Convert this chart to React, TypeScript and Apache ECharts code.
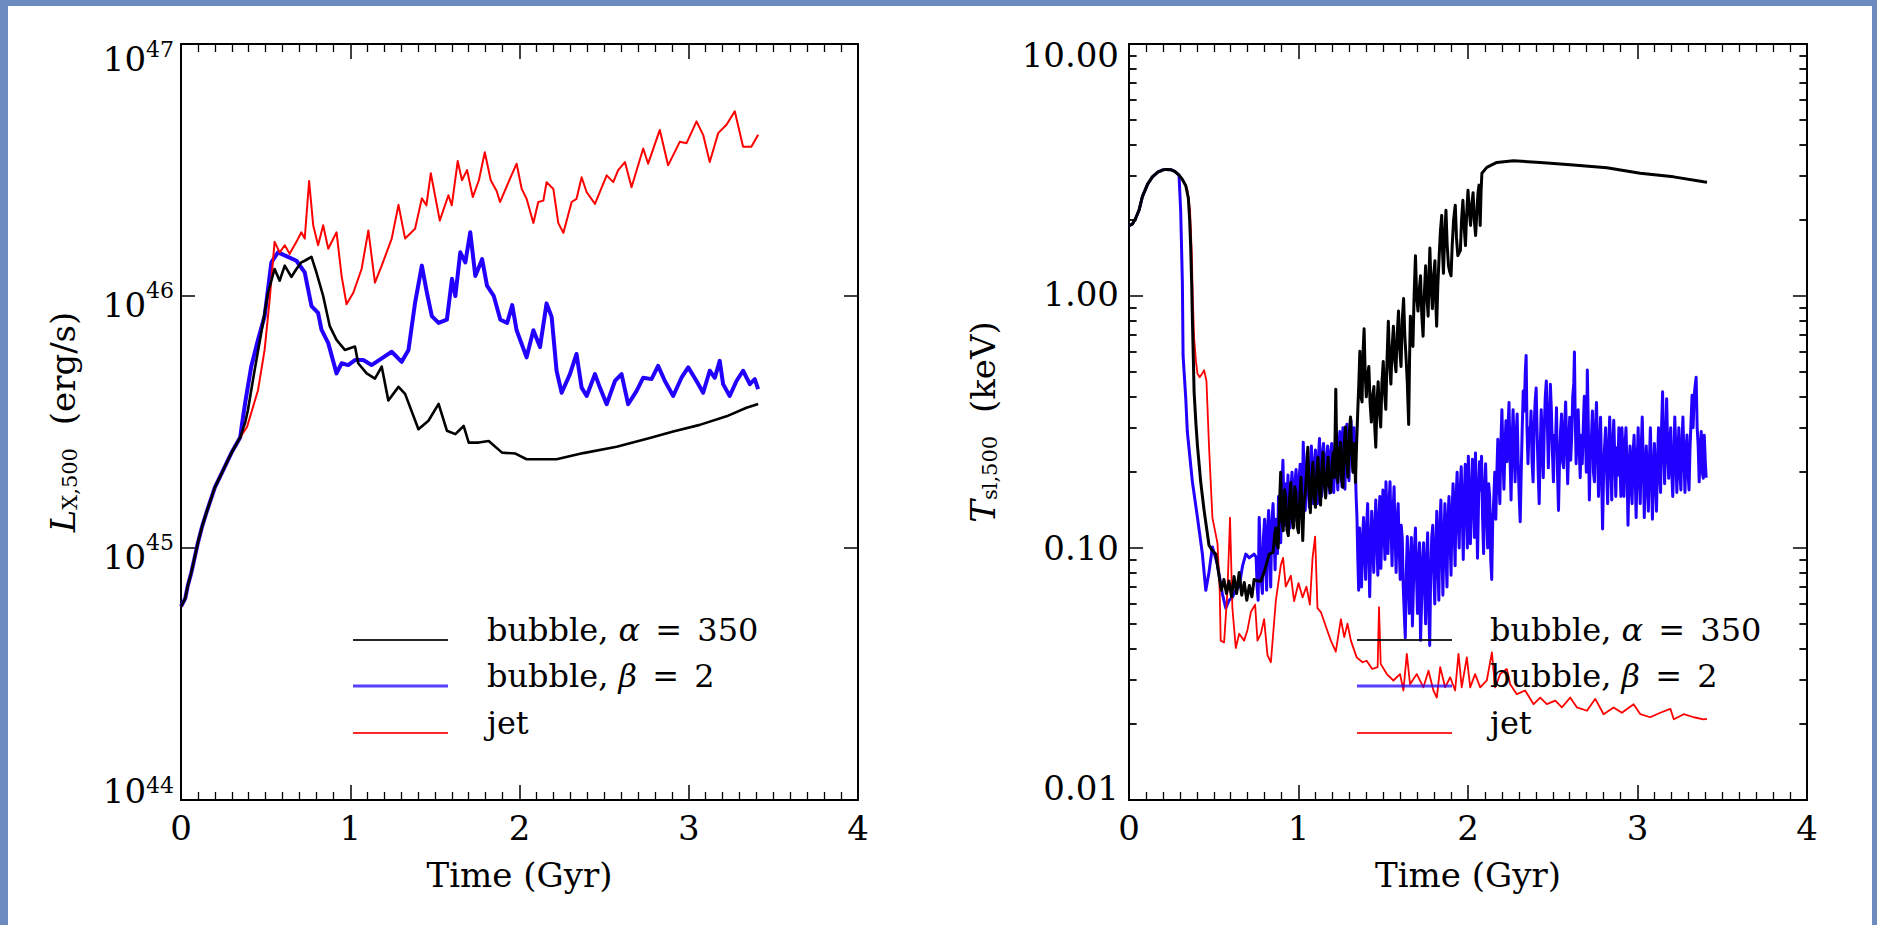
import React, { useEffect, useRef } from "react";
import * as echarts from "echarts";

type Pt = [number, number];

const FONT = '"DejaVu Serif", "Liberation Serif", serif';

// ---------- axis ticks ----------
const timeMin = 0;
const timeMax = 4;
const lxMin = 1e44;
const lxMax = 1e47;
const tslMin = 0.01;
const tslMax = 10;
const tslDecadeLabels: Record<string, string> = { "-2": "0.01", "-1": "0.10", "0": "1.00", "1": "10.00" };
const tslMinorTicks = [
  0.02, 0.03, 0.04, 0.05, 0.06, 0.07, 0.08, 0.09,
  0.2, 0.3, 0.4, 0.5, 0.6, 0.7, 0.8, 0.9,
  2, 3, 4, 5, 6, 7, 8, 9,
];
const minorTickSpan = 0.045; // Gyr, length of a minor log tick along the time axis

// ---------- legend ----------
const seriesNames = ["bubble, α = 350", "bubble, β = 2", "jet"];
const legendPrefix = ["bubble, ", "bubble, ", "jet"];
const legendSymbol = ["α", "β", ""];
const legendValue = ["350", "2", ""];
const seriesColors = ["#000000", "#2200ff", "#ff0000"];

// ---------- left panel: L_X,500 (erg/s) vs time (Gyr) ----------
const lxCommon: Pt[] = [
  [0, 5.86e44], [0.025, 6.31e44], [0.04, 7.08e44], [0.06, 7.94e44], [0.08, 9.12e44],
  [0.1, 1.05e45], [0.125, 1.22e45], [0.15, 1.38e45], [0.2, 1.74e45], [0.25, 2.04e45],
  [0.3, 2.4e45], [0.35, 2.75e45],
];
const lxAlpha: Pt[] = [
  [0.38, 3.16e45], [0.395, 3.51e45], [0.435, 5.08e45], [0.474, 7.13e45], [0.514, 1.03e46],
  [0.553, 1.28e46], [0.583, 1.15e46], [0.613, 1.32e46], [0.652, 1.19e46], [0.682, 1.28e46],
  [0.711, 1.36e46], [0.731, 1.38e46], [0.771, 1.43e46], [0.8, 1.24e46], [0.84, 1.0e46],
  [0.879, 7.59e45], [0.919, 6.7e45], [0.968, 6.11e45], [1.028, 6.3e45], [1.047, 5.41e45],
  [1.097, 4.93e45], [1.146, 4.7e45], [1.186, 5.24e45], [1.225, 3.85e45], [1.285, 4.36e45],
  [1.324, 4.09e45], [1.403, 2.96e45], [1.462, 3.2e45], [1.522, 3.73e45], [1.571, 2.92e45],
  [1.621, 2.83e45], [1.67, 3.05e45], [1.7, 2.62e45], [1.759, 2.62e45], [1.818, 2.66e45],
  [1.897, 2.39e45], [1.976, 2.37e45], [2.042, 2.25e45], [2.219, 2.25e45], [2.377, 2.38e45],
  [2.574, 2.52e45], [2.77, 2.73e45], [2.908, 2.9e45], [3.065, 3.08e45], [3.223, 3.33e45],
  [3.341, 3.6e45], [3.41, 3.73e45],
];
const lxBeta: Pt[] = [
  [0.36, 3.09e45], [0.38, 3.8e45], [0.415, 5.25e45], [0.455, 6.7e45], [0.494, 8.32e45],
  [0.534, 1.36e46], [0.573, 1.49e46], [0.632, 1.43e46], [0.682, 1.38e46], [0.731, 1.24e46],
  [0.771, 9.12e45], [0.81, 8.57e45], [0.83, 7.35e45], [0.87, 6.5e45], [0.919, 4.93e45],
  [0.949, 5.41e45], [0.988, 5.32e45], [1.028, 5.57e45], [1.077, 5.57e45], [1.126, 5.32e45],
  [1.186, 5.66e45], [1.245, 6.01e45], [1.304, 5.48e45], [1.344, 6.11e45], [1.383, 9.4e45],
  [1.423, 1.32e46], [1.453, 1.03e46], [1.482, 8.32e45], [1.522, 7.82e45], [1.571, 8.05e45],
  [1.601, 1.17e46], [1.621, 1.0e46], [1.65, 1.49e46], [1.68, 1.36e46], [1.709, 1.79e46],
  [1.739, 1.2e46], [1.779, 1.4e46], [1.808, 1.1e46], [1.848, 1.0e46], [1.887, 8.05e45],
  [1.927, 7.82e45], [1.957, 9.2e45], [1.983, 7.31e45], [2.042, 5.71e45], [2.082, 7.31e45],
  [2.121, 6.27e45], [2.16, 9.35e45], [2.19, 8.26e45], [2.219, 5.05e45], [2.249, 4.13e45],
  [2.298, 4.9e45], [2.337, 5.89e45], [2.367, 4.33e45], [2.397, 4.01e45], [2.446, 4.9e45],
  [2.475, 4.33e45], [2.515, 3.72e45], [2.564, 4.6e45], [2.603, 4.9e45], [2.642, 3.72e45],
  [2.692, 4.2e45], [2.731, 4.74e45], [2.78, 4.68e45], [2.819, 5.28e45], [2.859, 4.6e45],
  [2.908, 4.01e45], [2.957, 4.74e45], [2.997, 5.21e45], [3.046, 4.6e45], [3.085, 4.13e45],
  [3.124, 5.05e45], [3.154, 4.74e45], [3.183, 5.53e45], [3.203, 4.47e45], [3.242, 4.01e45],
  [3.282, 4.6e45], [3.321, 5.05e45], [3.361, 4.47e45], [3.39, 4.68e45], [3.41, 4.27e45],
];
const lxJet: Pt[] = [
  [0.39, 3.02e45], [0.455, 4.23e45], [0.494, 6.11e45], [0.524, 9.7e45], [0.553, 1.64e46],
  [0.583, 1.49e46], [0.613, 1.59e46], [0.642, 1.47e46], [0.682, 1.64e46], [0.711, 1.79e46],
  [0.731, 1.69e46], [0.757, 2.86e46], [0.781, 1.91e46], [0.81, 1.59e46], [0.84, 1.91e46],
  [0.87, 1.54e46], [0.919, 1.79e46], [0.949, 1.2e46], [0.978, 9.27e45], [1.018, 1.03e46],
  [1.067, 1.28e46], [1.107, 1.82e46], [1.146, 1.13e46], [1.186, 1.32e46], [1.245, 1.69e46],
  [1.285, 2.3e46], [1.324, 1.69e46], [1.383, 1.85e46], [1.423, 2.44e46], [1.45, 2.29e46],
  [1.476, 3.07e46], [1.529, 1.99e46], [1.58, 2.51e46], [1.6, 2.29e46], [1.635, 3.43e46],
  [1.66, 2.88e46], [1.69, 3.16e46], [1.724, 2.47e46], [1.76, 2.88e46], [1.795, 3.72e46],
  [1.83, 2.88e46], [1.865, 2.61e46], [1.885, 2.36e46], [1.944, 2.92e46], [1.983, 3.35e46],
  [2.013, 2.66e46], [2.042, 2.43e46], [2.082, 1.95e46], [2.111, 2.36e46], [2.141, 2.39e46],
  [2.16, 2.83e46], [2.2, 2.66e46], [2.229, 1.95e46], [2.259, 1.78e46], [2.308, 2.36e46],
  [2.337, 2.43e46], [2.367, 2.96e46], [2.397, 2.58e46], [2.446, 2.32e46], [2.515, 3.01e46],
  [2.554, 2.83e46], [2.583, 3.16e46], [2.623, 3.4e46], [2.662, 2.7e46], [2.731, 3.85e46],
  [2.76, 3.35e46], [2.829, 4.56e46], [2.878, 3.3e46], [2.947, 4.09e46], [2.987, 4.04e46],
  [3.046, 4.93e46], [3.085, 4.36e46], [3.124, 3.4e46], [3.174, 4.43e46], [3.223, 4.78e46],
  [3.272, 5.41e46], [3.321, 3.91e46], [3.37, 3.91e46], [3.41, 4.36e46],
];

// ---------- right panel: T_sl,500 (keV) vs time (Gyr) ----------
const tslCommon: Pt[] = [
  [0, 1.9], [0.02, 1.93], [0.039, 2.03], [0.06, 2.2], [0.079, 2.48], [0.11, 2.78],
  [0.138, 2.97], [0.17, 3.1], [0.197, 3.16], [0.22, 3.18], [0.246, 3.17], [0.27, 3.12],
  [0.295, 3.02],
];
const tslAlpha: Pt[] = [
  [0.315, 2.9], [0.335, 2.74], [0.35, 2.45], [0.358, 2.0], [0.364, 1.56], [0.37, 1.1],
  [0.374, 0.807], [0.38, 0.55], [0.384, 0.417], [0.395, 0.31], [0.404, 0.254], [0.423, 0.183],
  [0.443, 0.141], [0.472, 0.1026], [0.49, 0.098], [0.512, 0.0946], [0.531, 0.0776],
  [0.545, 0.068], [0.56, 0.075], [0.575, 0.066], [0.59, 0.074], [0.605, 0.064], [0.62, 0.077],
  [0.635, 0.066], [0.65, 0.08], [0.665, 0.065], [0.68, 0.073], [0.695, 0.062], [0.71, 0.071],
  [0.725, 0.064], [0.738, 0.075], [0.758, 0.0741], [0.778, 0.0738], [0.8, 0.0813],
  [0.827, 0.0946],
  [0.85, 0.096], [0.858, 0.11], [0.865, 0.12], [0.872, 0.104], [0.88, 0.1], [0.888, 0.15],
  [0.895, 0.2], [0.902, 0.13], [0.91, 0.117], [0.918, 0.17], [0.925, 0.158], [0.932, 0.118],
  [0.94, 0.112], [0.948, 0.16], [0.955, 0.182], [0.962, 0.13], [0.97, 0.12], [0.978, 0.175],
  [0.985, 0.166], [0.992, 0.122], [1.0, 0.115], [1.008, 0.16], [1.015, 0.191], [1.02, 0.14],
  [1.025, 0.107], [1.032, 0.15], [1.04, 0.166], [1.048, 0.2], [1.055, 0.251], [1.062, 0.17],
  [1.07, 0.138], [1.078, 0.19], [1.085, 0.219], [1.092, 0.16], [1.1, 0.145], [1.108, 0.2],
  [1.115, 0.229], [1.122, 0.17], [1.13, 0.148], [1.138, 0.21], [1.145, 0.24], [1.152, 0.18],
  [1.16, 0.158], [1.168, 0.2], [1.175, 0.229], [1.182, 0.175], [1.19, 0.166], [1.198, 0.215],
  [1.205, 0.24], [1.212, 0.19], [1.22, 0.427], [1.226, 0.23], [1.232, 0.182], [1.24, 0.24],
  [1.248, 0.263], [1.254, 0.19], [1.262, 0.174], [1.27, 0.26], [1.277, 0.302], [1.284, 0.22],
  [1.292, 0.191], [1.3, 0.29], [1.307, 0.331], [1.314, 0.24], [1.322, 0.2], [1.33, 0.26],
  [1.336, 0.182], [1.342, 0.25], [1.35, 0.355], [1.356, 0.45], [1.362, 0.603], [1.368, 0.4],
  [1.375, 0.38], [1.381, 0.6], [1.387, 0.741], [1.393, 0.5], [1.4, 0.398], [1.407, 0.48],
  [1.415, 0.525], [1.422, 0.38], [1.43, 0.316], [1.437, 0.4], [1.445, 0.437], [1.45, 0.3],
  [1.456, 0.251], [1.463, 0.38], [1.47, 0.457], [1.477, 0.35], [1.485, 0.302], [1.492, 0.45],
  [1.5, 0.55], [1.507, 0.42], [1.515, 0.355], [1.522, 0.55], [1.53, 0.794], [1.537, 0.55],
  [1.545, 0.447], [1.552, 0.62], [1.56, 0.759], [1.567, 0.56], [1.575, 0.501], [1.582, 0.7],
  [1.59, 0.871], [1.597, 0.62], [1.605, 0.525], [1.612, 0.8], [1.62, 0.977], [1.627, 0.7],
  [1.635, 0.562], [1.642, 0.45], [1.65, 0.309], [1.655, 0.55], [1.66, 0.832], [1.667, 0.7],
  [1.675, 0.631], [1.682, 1.0], [1.69, 1.445], [1.697, 1.0], [1.705, 0.871], [1.712, 1.05],
  [1.72, 1.202], [1.727, 0.85], [1.735, 0.692], [1.742, 1.0], [1.75, 1.318], [1.757, 1.0],
  [1.765, 0.832], [1.77, 1.2], [1.775, 1.549], [1.782, 1.1], [1.79, 0.891], [1.797, 1.2],
  [1.805, 1.38], [1.81, 0.95], [1.815, 0.759], [1.822, 1.1], [1.83, 1.445], [1.837, 1.8],
  [1.845, 2.089], [1.85, 1.5], [1.855, 1.23], [1.862, 1.7], [1.87, 2.188], [1.877, 1.6],
  [1.885, 1.318], [1.892, 1.25], [1.9, 1.202], [1.907, 1.6], [1.915, 1.995], [1.92, 2.15],
  [1.925, 2.291], [1.932, 1.7], [1.94, 1.445], [1.947, 1.48], [1.955, 1.514], [1.962, 2.0],
  [1.97, 2.399], [1.977, 1.9], [1.985, 1.585], [1.992, 2.1], [2.0, 2.63], [2.007, 2.2],
  [2.015, 1.905], [2.022, 2.3], [2.03, 2.57], [2.037, 2.0], [2.045, 1.738], [2.05, 2.0],
  [2.055, 2.344], [2.06, 2.6], [2.065, 2.754], [2.069, 2.2], [2.072, 1.905], [2.077, 2.6],
  [2.082, 3.07], [2.111, 3.24], [2.17, 3.39], [2.268, 3.44], [2.426, 3.39], [2.622, 3.31],
  [2.819, 3.23], [3.016, 3.07], [3.213, 2.97], [3.39, 2.84], [3.41, 2.83],
];
const tslBeta: Pt[] = [
  [0.305, 2.17], [0.315, 1.12], [0.319, 0.581], [0.325, 0.5], [0.335, 0.391], [0.344, 0.29],
  [0.374, 0.183], [0.404, 0.132], [0.433, 0.0946], [0.453, 0.0679], [0.472, 0.0802],
  [0.492, 0.101], [0.522, 0.0857], [0.551, 0.0658], [0.571, 0.0577], [0.59, 0.062],
  [0.61, 0.0637], [0.63, 0.068], [0.65, 0.0703], [0.67, 0.085], [0.689, 0.0946],
  [0.709, 0.0914], [0.738, 0.0946],
  [0.75, 0.092], [0.756, 0.07], [0.762, 0.062], [0.768, 0.132], [0.774, 0.1], [0.78, 0.075],
  [0.787, 0.066], [0.793, 0.11], [0.8, 0.13], [0.806, 0.09], [0.812, 0.068], [0.818, 0.12],
  [0.824, 0.141], [0.83, 0.095], [0.836, 0.07], [0.842, 0.125], [0.85, 0.15], [0.856, 0.11],
  [0.862, 0.082], [0.868, 0.13], [0.876, 0.095], [0.882, 0.16], [0.888, 0.12], [0.895, 0.105],
  [0.902, 0.17], [0.908, 0.223], [0.914, 0.15], [0.92, 0.123], [0.926, 0.18], [0.932, 0.14],
  [0.938, 0.195], [0.944, 0.125], [0.95, 0.12], [0.956, 0.175], [0.962, 0.2], [0.968, 0.14],
  [0.974, 0.128], [0.98, 0.185], [0.986, 0.205], [0.992, 0.15], [0.998, 0.132], [1.004, 0.19],
  [1.01, 0.215], [1.016, 0.16], [1.022, 0.14], [1.028, 0.263], [1.034, 0.19], [1.04, 0.141],
  [1.046, 0.2], [1.052, 0.24], [1.058, 0.17], [1.064, 0.145], [1.07, 0.21], [1.076, 0.254],
  [1.082, 0.18], [1.088, 0.15], [1.094, 0.22], [1.1, 0.245], [1.106, 0.17], [1.112, 0.15],
  [1.118, 0.23], [1.124, 0.272], [1.13, 0.19], [1.136, 0.16], [1.142, 0.24], [1.148, 0.26],
  [1.154, 0.18], [1.16, 0.16], [1.166, 0.23], [1.172, 0.254], [1.178, 0.19], [1.184, 0.165],
  [1.19, 0.24], [1.196, 0.26], [1.202, 0.185], [1.208, 0.166], [1.214, 0.245], [1.22, 0.28],
  [1.226, 0.2], [1.232, 0.17], [1.238, 0.25], [1.244, 0.29], [1.25, 0.21], [1.256, 0.175],
  [1.262, 0.3], [1.268, 0.24], [1.274, 0.171], [1.28, 0.26], [1.286, 0.31], [1.292, 0.22],
  [1.298, 0.185], [1.304, 0.29], [1.31, 0.321], [1.316, 0.24], [1.322, 0.2], [1.328, 0.3],
  [1.334, 0.223], [1.34, 0.16], [1.345, 0.132], [1.35, 0.09], [1.355, 0.068], [1.36, 0.12],
  [1.366, 0.09], [1.372, 0.07], [1.378, 0.11], [1.384, 0.132], [1.39, 0.095], [1.396, 0.075],
  [1.402, 0.12], [1.408, 0.15], [1.414, 0.1], [1.42, 0.064], [1.426, 0.1], [1.432, 0.14],
  [1.438, 0.105], [1.444, 0.08], [1.45, 0.12], [1.456, 0.155], [1.462, 0.11], [1.468, 0.078],
  [1.474, 0.13], [1.48, 0.16], [1.486, 0.083], [1.492, 0.12], [1.498, 0.17], [1.504, 0.12],
  [1.51, 0.09], [1.516, 0.183], [1.522, 0.13], [1.528, 0.095], [1.534, 0.15], [1.54, 0.183],
  [1.546, 0.12], [1.552, 0.085], [1.558, 0.14], [1.564, 0.175], [1.57, 0.11], [1.576, 0.08],
  [1.582, 0.13], [1.588, 0.15], [1.594, 0.1], [1.6, 0.075], [1.606, 0.123], [1.612, 0.11],
  [1.618, 0.07], [1.624, 0.055], [1.63, 0.044], [1.636, 0.08], [1.642, 0.111], [1.648, 0.075],
  [1.654, 0.055], [1.66, 0.09], [1.666, 0.11], [1.672, 0.049], [1.678, 0.07], [1.684, 0.1],
  [1.69, 0.12], [1.696, 0.08], [1.702, 0.055], [1.708, 0.085], [1.714, 0.105], [1.72, 0.043],
  [1.726, 0.06], [1.732, 0.09], [1.738, 0.105], [1.744, 0.07], [1.75, 0.05], [1.756, 0.09],
  [1.762, 0.115], [1.768, 0.06], [1.774, 0.041], [1.78, 0.08], [1.786, 0.11], [1.792, 0.123],
  [1.798, 0.08], [1.804, 0.06], [1.81, 0.1], [1.816, 0.14], [1.822, 0.09], [1.828, 0.062],
  [1.834, 0.12], [1.84, 0.155], [1.846, 0.1], [1.852, 0.065], [1.858, 0.11], [1.864, 0.15],
  [1.87, 0.095], [1.876, 0.07], [1.882, 0.132], [1.888, 0.16], [1.894, 0.11], [1.9, 0.078],
  [1.906, 0.14], [1.912, 0.18], [1.918, 0.12], [1.924, 0.085], [1.93, 0.16], [1.936, 0.2],
  [1.942, 0.13], [1.948, 0.1], [1.954, 0.17], [1.96, 0.21], [1.966, 0.14], [1.972, 0.09],
  [1.978, 0.16], [1.984, 0.215], [1.99, 0.15], [1.996, 0.1], [2.002, 0.231], [2.008, 0.16],
  [2.014, 0.104], [2.02, 0.15], [2.026, 0.225], [2.032, 0.17], [2.038, 0.11], [2.044, 0.238],
  [2.05, 0.16], [2.056, 0.091], [2.062, 0.15], [2.068, 0.22], [2.074, 0.17], [2.08, 0.231],
  [2.086, 0.132], [2.092, 0.095], [2.098, 0.17], [2.104, 0.216], [2.11, 0.14], [2.116, 0.1],
  [2.122, 0.18], [2.128, 0.16], [2.134, 0.09], [2.14, 0.075], [2.146, 0.13], [2.152, 0.155],
  [2.158, 0.2], [2.164, 0.13], [2.17, 0.195], [2.176, 0.27], [2.182, 0.19], [2.188, 0.15],
  [2.194, 0.26], [2.2, 0.354], [2.206, 0.24], [2.212, 0.171], [2.218, 0.25], [2.224, 0.32],
  [2.23, 0.22], [2.236, 0.3], [2.242, 0.378], [2.248, 0.23], [2.254, 0.155], [2.26, 0.26],
  [2.266, 0.354], [2.272, 0.25], [2.278, 0.183], [2.284, 0.28], [2.29, 0.34], [2.296, 0.22],
  [2.302, 0.16], [2.308, 0.127], [2.314, 0.2], [2.32, 0.3], [2.326, 0.42], [2.332, 0.35],
  [2.338, 0.5], [2.343, 0.581], [2.348, 0.3], [2.354, 0.216], [2.36, 0.3], [2.366, 0.272],
  [2.372, 0.35], [2.378, 0.22], [2.384, 0.183], [2.39, 0.3], [2.396, 0.38], [2.402, 0.431],
  [2.408, 0.28], [2.414, 0.2], [2.42, 0.15], [2.426, 0.25], [2.432, 0.354], [2.438, 0.26],
  [2.444, 0.19], [2.45, 0.3], [2.456, 0.4], [2.462, 0.46], [2.468, 0.32], [2.474, 0.208],
  [2.48, 0.3], [2.486, 0.446], [2.492, 0.35], [2.498, 0.24], [2.504, 0.183], [2.51, 0.28],
  [2.516, 0.254], [2.522, 0.36], [2.528, 0.2], [2.534, 0.141], [2.54, 0.22], [2.546, 0.29],
  [2.552, 0.34], [2.558, 0.22], [2.564, 0.208], [2.57, 0.3], [2.576, 0.38], [2.582, 0.26],
  [2.588, 0.18], [2.594, 0.25], [2.6, 0.33], [2.606, 0.223], [2.612, 0.28], [2.618, 0.4],
  [2.624, 0.45], [2.628, 0.6], [2.632, 0.35], [2.638, 0.216], [2.644, 0.3], [2.65, 0.354],
  [2.656, 0.25], [2.662, 0.19], [2.668, 0.28], [2.674, 0.216], [2.68, 0.3], [2.686, 0.4],
  [2.692, 0.3], [2.698, 0.2], [2.704, 0.508], [2.71, 0.3], [2.716, 0.155], [2.722, 0.25],
  [2.728, 0.272], [2.734, 0.35], [2.74, 0.2], [2.746, 0.183], [2.752, 0.3], [2.758, 0.378],
  [2.764, 0.25], [2.77, 0.16], [2.776, 0.24], [2.782, 0.33], [2.788, 0.2], [2.794, 0.119],
  [2.8, 0.2], [2.806, 0.254], [2.812, 0.3], [2.818, 0.2], [2.824, 0.15], [2.83, 0.25],
  [2.836, 0.331], [2.842, 0.22], [2.848, 0.155], [2.854, 0.26], [2.86, 0.321], [2.866, 0.23],
  [2.872, 0.16], [2.878, 0.25], [2.884, 0.195], [2.89, 0.3], [2.896, 0.22], [2.902, 0.16],
  [2.908, 0.3], [2.914, 0.24], [2.92, 0.16], [2.926, 0.25], [2.932, 0.3], [2.938, 0.21],
  [2.944, 0.123], [2.95, 0.2], [2.956, 0.254], [2.962, 0.18], [2.968, 0.15], [2.974, 0.238],
  [2.98, 0.28], [2.986, 0.2], [2.992, 0.132], [2.998, 0.22], [3.004, 0.3], [3.01, 0.2],
  [3.016, 0.15], [3.022, 0.25], [3.028, 0.331], [3.034, 0.22], [3.04, 0.132], [3.046, 0.2],
  [3.052, 0.254], [3.058, 0.183], [3.064, 0.14], [3.07, 0.22], [3.076, 0.3], [3.082, 0.2],
  [3.088, 0.13], [3.094, 0.2], [3.1, 0.26], [3.106, 0.18], [3.112, 0.14], [3.118, 0.22],
  [3.124, 0.3], [3.13, 0.2], [3.136, 0.166], [3.142, 0.3], [3.148, 0.417], [3.154, 0.25],
  [3.16, 0.18], [3.166, 0.26], [3.172, 0.391], [3.178, 0.25], [3.184, 0.189], [3.19, 0.26],
  [3.196, 0.3], [3.202, 0.2], [3.208, 0.16], [3.214, 0.22], [3.22, 0.331], [3.226, 0.25],
  [3.232, 0.166], [3.238, 0.23], [3.244, 0.3], [3.25, 0.2], [3.256, 0.17], [3.262, 0.26],
  [3.268, 0.331], [3.274, 0.23], [3.28, 0.166], [3.286, 0.24], [3.292, 0.281], [3.298, 0.2],
  [3.304, 0.17], [3.31, 0.25], [3.316, 0.32], [3.322, 0.404], [3.328, 0.3], [3.334, 0.4],
  [3.34, 0.44], [3.346, 0.476], [3.352, 0.3], [3.358, 0.254], [3.364, 0.183], [3.37, 0.25],
  [3.376, 0.29], [3.382, 0.2], [3.388, 0.189], [3.394, 0.28], [3.4, 0.22], [3.405, 0.19],
];
const tslJet: Pt[] = [
  [0.315, 2.9], [0.335, 2.74], [0.344, 2.65], [0.36, 2.2], [0.37, 1.5], [0.376, 1.0],
  [0.384, 0.684], [0.395, 0.55], [0.404, 0.492], [0.417, 0.476], [0.43, 0.49], [0.443, 0.508],
  [0.457, 0.46], [0.472, 0.254], [0.492, 0.132], [0.522, 0.1045], [0.535, 0.0679],
  [0.541, 0.0429], [0.561, 0.0422], [0.581, 0.0679], [0.596, 0.132], [0.61, 0.0577],
  [0.63, 0.0401], [0.65, 0.0457], [0.679, 0.0429], [0.699, 0.0473], [0.719, 0.0557],
  [0.744, 0.0596], [0.758, 0.0429], [0.778, 0.0457], [0.797, 0.0522], [0.817, 0.0376],
  [0.837, 0.0352], [0.866, 0.0615], [0.896, 0.0857], [0.909, 0.0914], [0.925, 0.0703],
  [0.955, 0.0776], [0.974, 0.0615], [1.0, 0.0726], [1.024, 0.0637], [1.047, 0.0703],
  [1.067, 0.0596], [1.083, 0.0914], [1.098, 0.111], [1.112, 0.0577], [1.132, 0.0557],
  [1.161, 0.0489], [1.191, 0.0429], [1.22, 0.0388], [1.25, 0.0522], [1.27, 0.0443],
  [1.289, 0.0501], [1.309, 0.0429], [1.343, 0.0368], [1.378, 0.0352], [1.402, 0.0357],
  [1.435, 0.0331], [1.467, 0.0337], [1.475, 0.0582], [1.485, 0.0347], [1.521, 0.0316],
  [1.56, 0.0298], [1.599, 0.0316], [1.619, 0.0272], [1.639, 0.038], [1.658, 0.0288],
  [1.698, 0.0316], [1.737, 0.028], [1.767, 0.0326], [1.796, 0.0272], [1.816, 0.0255],
  [1.836, 0.0337], [1.865, 0.028], [1.895, 0.0307], [1.924, 0.0272], [1.944, 0.038],
  [1.963, 0.028], [1.993, 0.0368], [2.013, 0.028], [2.042, 0.0316], [2.072, 0.028],
  [2.111, 0.0298], [2.141, 0.0385], [2.16, 0.028], [2.19, 0.0316], [2.229, 0.0331],
  [2.249, 0.0288], [2.288, 0.0263], [2.337, 0.0272], [2.387, 0.024], [2.426, 0.0255],
  [2.465, 0.024], [2.515, 0.0248], [2.554, 0.0233], [2.603, 0.0255], [2.643, 0.0233],
  [2.702, 0.0226], [2.751, 0.0252], [2.8, 0.0219], [2.859, 0.0233], [2.908, 0.0222],
  [2.977, 0.024], [3.017, 0.0219], [3.075, 0.0213], [3.134, 0.0222], [3.194, 0.023],
  [3.214, 0.0209], [3.273, 0.0219], [3.332, 0.0213], [3.39, 0.0209], [3.41, 0.021],
];

// ---------- layout (chart-local pixels) ----------
const GRID_L = { left: 173, top: 38, width: 677, height: 756 };
const GRID_R = { left: 1121, top: 38, width: 678, height: 756 };
const LEGEND_Y = [634, 680, 727];

const AX_COLOR = "#000";

function timeAxis(gridIndex: number, position: "bottom" | "top") {
  const bottom = position === "bottom";
  return {
    type: "value",
    gridIndex,
    position,
    min: timeMin,
    max: timeMax,
    interval: 1,
    axisLine: { show: true, onZero: false, lineStyle: { color: AX_COLOR, width: 2 } },
    axisTick: { show: true, inside: true, length: 15, lineStyle: { color: AX_COLOR, width: 1.5 } },
    minorTick: { show: true, splitNumber: 10, length: 8, lineStyle: { color: AX_COLOR, width: 1.3 } },
    splitLine: { show: false },
    minorSplitLine: { show: false },
    axisLabel: {
      show: bottom,
      margin: 11,
      fontSize: 34,
      fontFamily: FONT,
      color: AX_COLOR,
      showMinLabel: true,
      showMaxLabel: true,
    },
    name: bottom ? "Time (Gyr)" : "",
    nameLocation: "middle",
    nameGap: 58,
    nameTextStyle: { fontSize: 34, fontFamily: FONT, color: AX_COLOR },
  };
}

const supBase = { fontSize: 34, lineHeight: 34, fontFamily: FONT, color: AX_COLOR };
const supExp = { fontSize: 22, lineHeight: 22, fontFamily: FONT, color: AX_COLOR };

function lxAxis(position: "left" | "right") {
  const left = position === "left";
  return {
    type: "log",
    logBase: 10,
    gridIndex: 0,
    position,
    min: lxMin,
    max: lxMax,
    axisLine: { show: true, onZero: false, lineStyle: { color: AX_COLOR, width: 2 } },
    axisTick: { show: true, inside: true, length: 14, lineStyle: { color: AX_COLOR, width: 1.5 } },
    splitLine: { show: false },
    axisLabel: {
      show: left,
      margin: 7,
      showMinLabel: true,
      showMaxLabel: true,
      formatter: (v: number) => {
        const e = Math.round(Math.log10(v));
        const k = e === 47 ? "t" : e === 44 ? "b" : "m";
        return `{${k}B|10}{${k}S|${e}}`;
      },
      rich: {
        mB: { ...supBase, padding: [18, 0, 0, 0] },
        mS: { ...supExp, padding: [0, 0, 12, 0] },
        tB: { ...supBase, padding: [30, 0, 0, 0] },
        tS: { ...supExp, padding: [10, 0, 0, 0] },
        bB: { ...supBase, padding: [0, 0, 18, 0] },
        bS: { ...supExp, padding: [0, 0, 30, 0] },
      },
    },
    name: left ? "{i|L}{s|X,500}{n| (erg/s)}" : "",
    nameLocation: "middle",
    nameRotate: 90,
    nameGap: 98,
    nameTextStyle: {
      rich: {
        i: { fontSize: 34, lineHeight: 40, fontStyle: "italic", fontFamily: FONT, color: AX_COLOR },
        s: { fontSize: 21, lineHeight: 21, padding: [14, 0, 0, 0], fontFamily: FONT, color: AX_COLOR },
        n: { fontSize: 34, lineHeight: 40, fontFamily: FONT, color: AX_COLOR, padding: [0, 0, 0, 12] },
      },
    },
  };
}

function tslAxis(position: "left" | "right") {
  const left = position === "left";
  return {
    type: "log",
    logBase: 10,
    gridIndex: 1,
    position,
    min: tslMin,
    max: tslMax,
    axisLine: { show: true, onZero: false, lineStyle: { color: AX_COLOR, width: 2 } },
    axisTick: { show: true, inside: true, length: 14, lineStyle: { color: AX_COLOR, width: 1.5 } },
    splitLine: { show: false },
    axisLabel: {
      show: left,
      margin: 10,
      showMinLabel: true,
      showMaxLabel: true,
      formatter: (v: number) => {
        const e = Math.round(Math.log10(v));
        const k = e === 1 ? "t" : e === -2 ? "b" : e === -1 ? "m2" : "m1";
        return `{${k}|${tslDecadeLabels[String(e)]}}`;
      },
      rich: {
        t: { ...supBase, padding: [22, 0, 0, 0] },
        m1: { ...supBase, padding: [0, 0, 4, 0] },
        m2: { ...supBase, padding: [0, 0, 0, 0] },
        b: { ...supBase, padding: [0, 0, 24, 0] },
      },
    },
    name: left ? "{i|T}{s|sl,500}{n| (keV)}" : "",
    nameLocation: "middle",
    nameRotate: 90,
    nameGap: 126,
    nameTextStyle: {
      rich: {
        i: { fontSize: 34, lineHeight: 40, fontStyle: "italic", fontFamily: FONT, color: AX_COLOR },
        s: { fontSize: 21, lineHeight: 21, padding: [14, 0, 0, 0], fontFamily: FONT, color: AX_COLOR },
        n: { fontSize: 34, lineHeight: 40, fontFamily: FONT, color: AX_COLOR, padding: [0, 0, 0, 12] },
      },
    },
  };
}

function lineSeries(name: string, data: Pt[], xi: number, yi: number, color: string, width: number) {
  return {
    type: "line",
    name,
    data,
    xAxisIndex: xi,
    yAxisIndex: yi,
    showSymbol: false,
    symbol: "none",
    smooth: false,
    clip: true,
    lineStyle: { color, width, join: "round" },
    itemStyle: { color },
    emphasis: { disabled: true },
    silent: true,
  };
}

// minor log ticks (2..9 of each decade) on both vertical frame edges of the right panel,
// drawn as short markLine segments in data coordinates of that panel
const minorTickSegments = tslMinorTicks.flatMap((v) => [
  [{ coord: [timeMin, v] }, { coord: [timeMin + minorTickSpan, v] }],
  [{ coord: [timeMax - minorTickSpan, v] }, { coord: [timeMax, v] }],
]);

function legendGraphic(lineX: number, textX: number) {
  const els: any[] = [];
  const widths = [2, 3, 2];
  for (let i = 0; i < 3; i++) {
    els.push({
      type: "line",
      z: 100,
      shape: { x1: lineX, y1: LEGEND_Y[i], x2: lineX + 95, y2: LEGEND_Y[i] },
      style: { stroke: seriesColors[i], lineWidth: widths[i], opacity: i === 1 ? 0.75 : 0.85 },
    });
    const txt = legendSymbol[i]
      ? `{n|${legendPrefix[i]}}{g|${legendSymbol[i]}}{e| = }{n|${legendValue[i]}}`
      : `{n|${legendPrefix[i]}}`;
    els.push({
      type: "text",
      z: 100,
      x: textX,
      y: LEGEND_Y[i] - 10,
      style: {
        text: txt,
        align: "left",
        verticalAlign: "middle",
        fill: "#000",
        fontSize: 32,
        fontFamily: FONT,
        rich: {
          n: { fontSize: 32, fontFamily: FONT, fill: "#000", color: "#000" },
          g: { fontSize: 32, fontFamily: FONT, fontStyle: "italic", fill: "#000", color: "#000" },
          e: { fontSize: 32, fontFamily: FONT, fill: "#000", color: "#000", padding: [0, 5, 0, 5] },
        },
      },
    });
  }
  return els;
}

export default function App() {
  const ref = useRef<HTMLDivElement>(null);
  useEffect(() => {
    if (!ref.current) return;
    const chart = echarts.init(ref.current, null, { renderer: "svg" });
    const jetRight: any = lineSeries(seriesNames[2], [...tslCommon, ...tslJet], 2, 2, seriesColors[2], 1.8);
    jetRight.markLine = {
      silent: true,
      symbol: ["none", "none"],
      animation: false,
      label: { show: false },
      emphasis: { disabled: true },
      lineStyle: { color: AX_COLOR, width: 1.8, type: "solid", opacity: 1 },
      data: minorTickSegments,
    };
    const option: any = {
      animation: false,
      backgroundColor: "#ffffff",
      grid: [
        { ...GRID_L, containLabel: false },
        { ...GRID_R, containLabel: false },
      ],
      xAxis: [timeAxis(0, "bottom"), timeAxis(0, "top"), timeAxis(1, "bottom"), timeAxis(1, "top")],
      yAxis: [lxAxis("left"), lxAxis("right"), tslAxis("left"), tslAxis("right")],
      series: [
        lineSeries(seriesNames[1], [...lxCommon, ...lxBeta], 0, 0, seriesColors[1], 4),
        lineSeries(seriesNames[2], [...lxCommon, ...lxJet], 0, 0, seriesColors[2], 2),
        lineSeries(seriesNames[0], [...lxCommon, ...lxAlpha], 0, 0, seriesColors[0], 2.6),
        lineSeries(seriesNames[1], [...tslCommon, ...tslBeta], 2, 2, seriesColors[1], 3),
        jetRight,
        lineSeries(seriesNames[0], [...tslCommon, ...tslAlpha], 2, 2, seriesColors[0], 3),
      ],
      graphic: [...legendGraphic(345, 479), ...legendGraphic(1349, 1482)],
    };
    chart.setOption(option);
    return () => chart.dispose();
  }, []);
  return (
    <div style={{ position: "fixed", left: 0, top: 0, width: 1877, height: 925, background: "#6e8bc1" }}>
      <div
        ref={ref}
        style={{ position: "absolute", left: 8, top: 6, width: 1864, height: 919, background: "#ffffff" }}
      />
    </div>
  );
}
